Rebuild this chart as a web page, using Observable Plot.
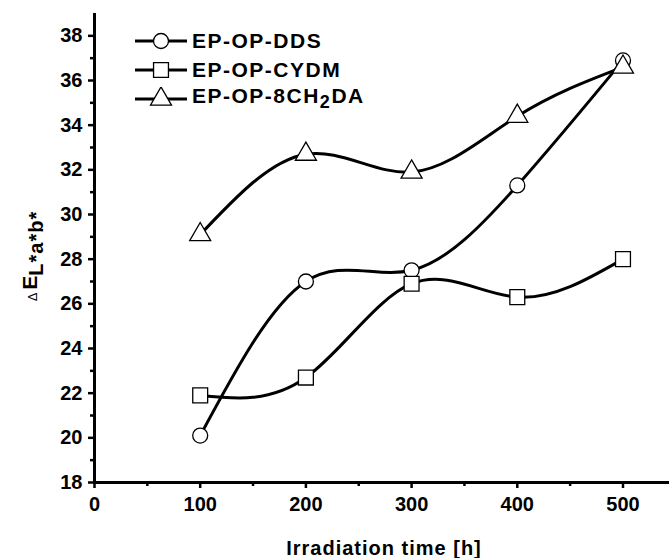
<!DOCTYPE html>
<html>
<head>
<meta charset="utf-8">
<script src="https://cdn.jsdelivr.net/npm/d3@7"></script>
<script src="https://cdn.jsdelivr.net/npm/@observablehq/plot@0.6"></script>
<style>
  html, body { margin: 0; padding: 0; background: #fff; }
  #wrap { position: relative; width: 669px; height: 558px; font-family: "Liberation Sans", Arial, sans-serif; }
  #legend { position: absolute; left: 133px; top: 26px; }
  .row { display: flex; align-items: center; height: 29px; font-weight: bold; font-size: 21px; letter-spacing: 1.5px; color: #000; }
  .row svg { margin-right: 4px; }
</style>
</head>
<body>
<div id="wrap"></div>
<script>
const times = [100, 200, 300, 400, 500];
const ddsValues = [20.1, 27.0, 27.5, 31.3, 36.9];
const cydmValues = [21.9, 22.7, 26.9, 26.3, 28.0];
const ch2daValues = [29.1, 32.7, 31.9, 34.4, 36.6];
const seriesNames = ["EP-OP-DDS", "EP-OP-CYDM", "EP-OP-8CH2DA"];
const seriesSymbols = ["circle", "square", "triangle"];
const xTicks = [0, 100, 200, 300, 400, 500];
const xMinor = [50, 150, 250, 350, 450];
const yTicks = [18, 20, 22, 24, 26, 28, 30, 32, 34, 36, 38];
const yMinor = [19, 21, 23, 25, 27, 29, 31, 33, 35, 37];

const seriesValues = [ddsValues, cydmValues, ch2daValues];
const data = seriesNames.flatMap((name, i) =>
  times.map((t, j) => ({series: name, symbol: seriesSymbols[i], time: t, value: seriesValues[i][j]})));
const symR = {circle: 7.5, square: 8.4, triangle: 7.8};

const marks = [
  Plot.axisX(xMinor, {tickSize: 4, strokeWidth: 2.5, text: null, label: null}),
  Plot.axisY(yMinor, {tickSize: 4, strokeWidth: 2.5, text: null, label: null}),
  Plot.axisX(xTicks, {tickSize: 6, strokeWidth: 2.5, tickPadding: 8, label: null}),
  Plot.axisY(yTicks, {tickSize: 6, strokeWidth: 2.5, tickPadding: 6, label: null}),
  Plot.ruleX([0], {strokeWidth: 3}),
  Plot.ruleY([18], {strokeWidth: 3}),
];
seriesNames.forEach((name) => {
  const d = data.filter(r => r.series === name);
  marks.push(Plot.line(d, {x: "time", y: "value", curve: "natural", stroke: "black", strokeWidth: 3}));
});
seriesNames.forEach((name) => {
  const d = data.filter(r => r.series === name);
  const s = d[0].symbol;
  marks.push(Plot.dot(d, {x: "time", y: "value", symbol: () => s, r: symR[s], fill: "white", stroke: "black", strokeWidth: 1.3}));
});

const chart = Plot.plot({
  width: 669,
  height: 558,
  marginLeft: 94,
  marginRight: 0,
  marginTop: 13,
  marginBottom: 76,
  x: {domain: [0, 544], label: null},
  y: {domain: [18, 39], label: null},
  symbol: {type: "identity"},
  style: {fontFamily: "Liberation Sans, Arial, sans-serif", fontWeight: "bold", fontSize: "20px", color: "black", background: "white"},
  marks
});

// Axis titles
const svg = d3.select(chart);
svg.append("text")
  .attr("x", 384).attr("y", 555)
  .attr("text-anchor", "middle")
  .attr("font-size", 20).attr("font-weight", "bold")
  .attr("letter-spacing", 1)
  .attr("fill", "black")
  .text("Irradiation time [h]");
const yl = svg.append("text")
  .attr("transform", "translate(37,256) rotate(-90)")
  .attr("text-anchor", "middle")
  .attr("fill", "black");
yl.append("tspan").attr("font-size", 13).attr("font-weight", "normal").text("\u0394 ");
yl.append("tspan").attr("font-size", 21).attr("font-weight", "bold").text("E");
yl.append("tspan").attr("font-size", 20).attr("font-weight", "bold").attr("letter-spacing", 1).attr("dy", 6).text("L*a*b*");

document.getElementById("wrap").appendChild(chart);

// Legend
const legend = document.createElement("div");
legend.id = "legend";
seriesNames.forEach((name, i) => {
  const row = document.createElement("div");
  row.className = "row";
  const s = seriesSymbols[i];
  const ns = "http://www.w3.org/2000/svg";
  const sv = document.createElementNS(ns, "svg");
  sv.setAttribute("width", 55); sv.setAttribute("height", 24);
  const ln = document.createElementNS(ns, "line");
  ln.setAttribute("x1", 2); ln.setAttribute("x2", 54); ln.setAttribute("y1", 12); ln.setAttribute("y2", 12);
  ln.setAttribute("stroke", "black"); ln.setAttribute("stroke-width", 3);
  sv.appendChild(ln);
  const p = document.createElementNS(ns, "path");
  const sym = {circle: d3.symbolCircle, square: d3.symbolSquare, triangle: d3.symbolTriangle}[s];
  p.setAttribute("d", d3.symbol(sym, Math.PI * symR[s] * symR[s])());
  p.setAttribute("transform", "translate(28,12)");
  p.setAttribute("fill", "white"); p.setAttribute("stroke", "black"); p.setAttribute("stroke-width", 1.3);
  sv.appendChild(p);
  row.appendChild(sv);
  const label = document.createElement("span");
  if (name.includes("CH2")) {
    const [a, b] = name.split("CH2");
    label.innerHTML = a + "CH<sub style='font-size:18px;vertical-align:-5px'>2</sub>" + b;
  } else {
    label.textContent = name;
  }
  row.appendChild(label);
  legend.appendChild(row);
});
document.getElementById("wrap").appendChild(legend);
</script>
</body>
</html>
